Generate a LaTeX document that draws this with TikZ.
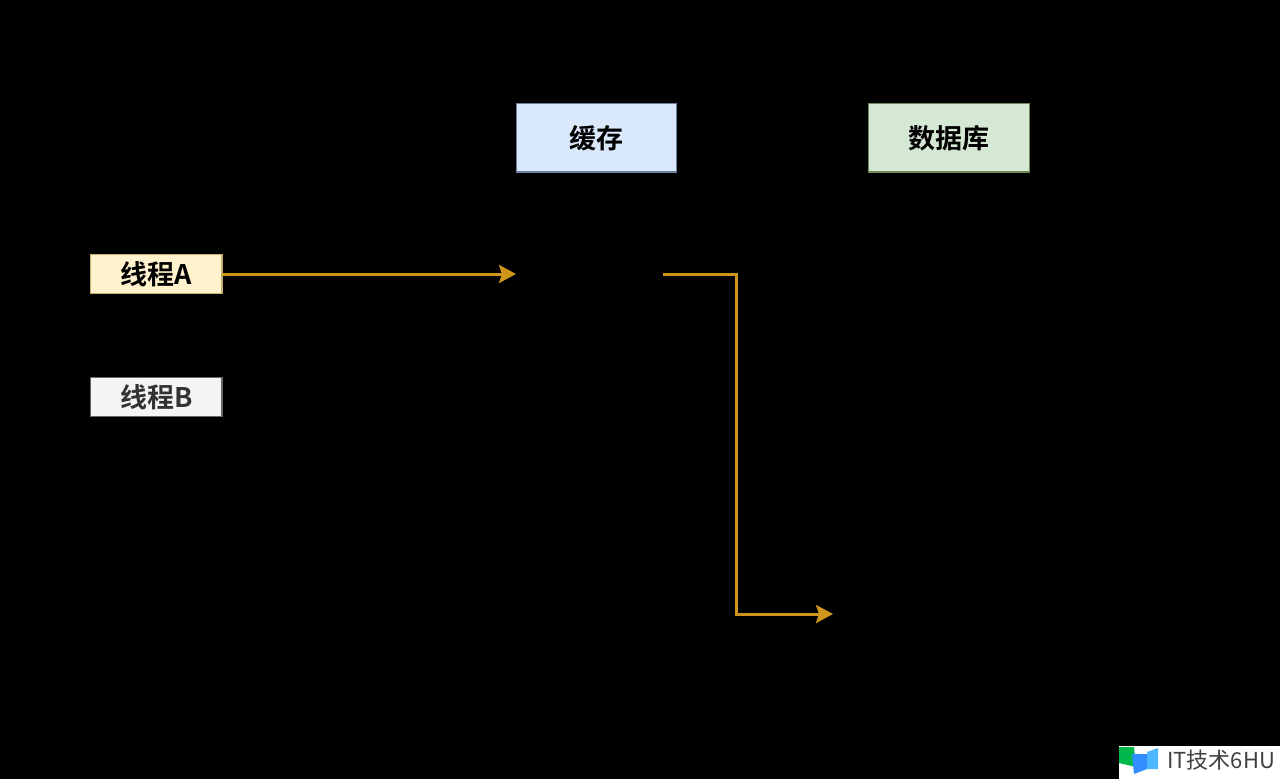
\documentclass[tikz,border=0pt]{standalone}
\usepackage{fontspec}
\setmainfont{Noto Sans CJK SC}[BoldFont={* Bold}]
\usetikzlibrary{arrows.meta}
\newfontfamily\wmfont{Noto Sans CJK SC}
\definecolor{flow}{HTML}{D0961C}
\definecolor{bluefill}{HTML}{DAE8FC}
\definecolor{blueline}{HTML}{6C7F9E}
\definecolor{greenfill}{HTML}{D5E8D4}
\definecolor{greenline}{HTML}{6F8A58}
\definecolor{yellowfill}{HTML}{FFF2CC}
\definecolor{yellowline}{HTML}{C4AC6C}
\definecolor{greyfill}{HTML}{F5F5F5}
\definecolor{greyline}{HTML}{666666}
\definecolor{marktext}{HTML}{333333}
\tikzset{
  x=1pt,y=-1pt,
  store/.style={draw,line width=1.2pt,outer sep=0pt,minimum width=160pt,minimum height=68.5pt,inner sep=0pt,anchor=north west,font=\fontsize{27}{27}\selectfont\bfseries,text=black},
  thread/.style={draw,line width=1.2pt,outer sep=0pt,minimum width=131.5pt,minimum height=39pt,inner sep=0pt,anchor=north west,font=\fontsize{27}{27}\selectfont\bfseries},
  flowline/.style={draw=flow,line width=3pt,-{Stealth[length=17pt,width=18pt,inset=3pt]}},
}
\begin{document}
\begin{tikzpicture}
\useasboundingbox (0,0) rectangle (1280,779);
\fill[black] (0,0) rectangle (1280,779);
\node[store,fill=bluefill,draw=blueline] (cache) at (516.5,103.5) {缓存};
\node[store,fill=greenfill,draw=greenline,minimum width=161pt] (db) at (868.5,103.5) {数据库};
\node[thread,fill=yellowfill,draw=yellowline,text=black] (ta) at (90.5,254.5) {线程A};
\node[thread,fill=greyfill,draw=greyline,text=marktext] (tb) at (90.5,377.5) {线程B};
\coordinate (c1) at (516,274);
\coordinate (c2) at (663,274);
\coordinate (c3) at (736,274);
\coordinate (c4) at (736,614);
\coordinate (c5) at (833,614);
\draw[flowline] (ta.east) -- (c1);
\draw[flowline] (c2) -- (c3) -- (c4) -- (c5);
% watermark
\fill[white] (1119,746) rectangle (1280,779);
\fill[green!60!black!70!cyan] (1119,747) -- (1134,747) -- (1136,767) -- (1119,763) -- cycle;
\fill[blue!55!cyan!80!white] (1132,754) -- (1147,754) -- (1147,769) -- (1134,774) -- cycle;
\fill[blue!40!cyan!70!white] (1147,752) -- (1158,748) -- (1158,769) -- (1147,769) -- cycle;
\node[anchor=west,inner sep=0pt,text=black!75,font=\wmfont\fontsize{22}{22}\selectfont] (wm) at (1167,760) {IT技术6HU};
\end{tikzpicture}
\end{document}
